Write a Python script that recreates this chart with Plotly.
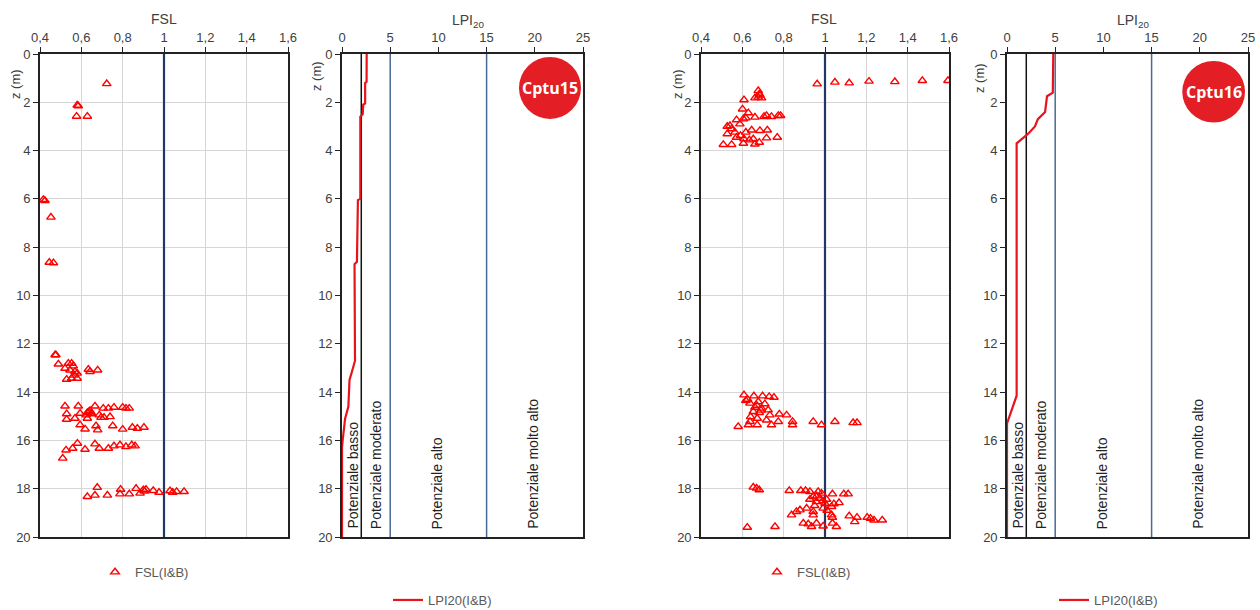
import plotly.graph_objects as go

W, H = 1260, 610

# ---------------- data ----------------
# Cptu15 FSL (x = FSL, z = depth m)
fsl15_x = [0.723, 0.58, 0.585, 0.577, 0.629, 0.424, 0.416, 0.453, 0.445, 0.465,
           0.477, 0.473, 0.489, 0.537, 0.553, 0.561, 0.521, 0.545, 0.569, 0.58, 0.529, 0.553, 0.58, 0.565,
           0.634, 0.642, 0.679,
           0.521, 0.585, 0.666, 0.706, 0.731, 0.758, 0.8, 0.816, 0.832, 0.529, 0.594, 0.629, 0.642, 0.65,
           0.623, 0.687, 0.695, 0.71, 0.739, 0.529, 0.569, 0.629, 0.594, 0.618, 0.671, 0.679, 0.752, 0.8,
           0.847, 0.871, 0.903, 0.636, 0.645,
           0.51, 0.526, 0.558, 0.581, 0.618, 0.666, 0.687, 0.731, 0.758, 0.787, 0.816, 0.844, 0.86,
           0.677, 0.629, 0.666, 0.726, 0.79, 0.787, 0.832, 0.865, 0.884, 0.9, 0.913, 0.948, 0.976,
           1.029, 1.042, 1.061, 1.097, 0.905]
fsl15_z = [1.23, 2.12, 2.15, 2.58, 2.58, 6.07, 6.03, 6.76, 8.63, 8.65,
           12.46, 12.46, 12.84, 12.81, 12.81, 12.92, 13.02, 13.09, 13.15, 13.22, 13.47, 13.43, 13.43, 13.3,
           13.06, 13.15, 13.09,
           14.58, 14.58, 14.58, 14.67, 14.67, 14.63, 14.63, 14.67, 14.67, 14.9, 14.88, 14.85, 14.77, 14.88,
           14.95, 14.95, 15.05, 15.05, 15.02, 15.13, 15.09, 15.09, 15.36, 15.53, 15.4, 15.57, 15.4, 15.54,
           15.46, 15.5, 15.46, 14.82, 14.9,
           16.74, 16.4, 16.33, 16.12, 16.37, 16.15, 16.33, 16.33, 16.23, 16.19, 16.26, 16.19, 16.23,
           17.95, 18.33, 18.27, 18.27, 18.03, 18.22, 18.22, 17.99, 18.19, 18.05, 18.03, 18.08, 18.15,
           18.09, 18.15, 18.12, 18.12, 18.1]

# Cptu16 FSL
fsl16_x = [0.962, 1.048, 1.117, 1.213, 1.338, 1.471, 1.595,
           0.677, 0.682, 0.677, 0.661, 0.693, 0.608, 0.685,
           0.601, 0.629, 0.617, 0.572, 0.605, 0.661, 0.705, 0.717, 0.741, 0.774, 0.785, 0.588, 0.527,
           0.54, 0.548, 0.527, 0.564, 0.572, 0.591, 0.617, 0.645, 0.685, 0.721, 0.608, 0.634, 0.653,
           0.605, 0.661, 0.682, 0.717, 0.769, 0.508, 0.548,
           0.608, 0.617, 0.656, 0.698, 0.73, 0.753, 0.637, 0.677, 0.709, 0.661, 0.693, 0.725, 0.653,
           0.682, 0.733, 0.779, 0.814, 0.64, 0.672, 0.717, 0.774, 0.843, 0.843, 0.637, 0.58, 0.629,
           0.672, 0.741, 0.943, 0.983, 1.048, 1.136, 1.155, 0.625, 0.67, 0.69,
           0.653, 0.669, 0.682, 0.827, 0.883, 0.906, 0.927, 0.967, 0.983, 0.943, 0.975, 1.036, 1.091,
           1.112, 0.927, 0.959, 1.0, 1.007, 1.043, 1.068, 1.032, 0.991, 0.911, 0.879, 0.862, 0.838,
           0.943, 0.943, 1.032, 1.036, 1.117, 1.155, 1.144, 1.204, 1.22, 1.237, 1.277, 0.895, 0.919,
           0.959, 0.935, 0.991, 1.036, 1.055, 0.624, 0.758, 0.96, 0.99, 0.95, 1.01]
fsl16_z = [1.24, 1.17, 1.2, 1.13, 1.15, 1.1, 1.1,
           1.52, 1.66, 1.79, 1.82, 1.82, 1.9, 1.7,
           2.28, 2.44, 2.65, 2.73, 2.69, 2.62, 2.59, 2.55, 2.59, 2.55, 2.55, 2.9, 3.0,
           2.97, 3.1, 3.31, 3.24, 3.45, 3.38, 3.24, 3.15, 3.17, 3.15, 3.52, 3.56, 3.52,
           3.7, 3.73, 3.66, 3.48, 3.45, 3.75, 3.75,
           14.12, 14.35, 14.16, 14.16, 14.19, 14.22, 14.46, 14.4, 14.49, 14.63, 14.67, 14.74, 14.81,
           14.85, 14.95, 14.91, 14.95, 15.02, 15.09, 15.16, 15.22, 15.22, 15.36, 15.22, 15.43, 15.36,
           15.36, 15.36, 15.22, 15.36, 15.22, 15.27, 15.27, 14.3, 14.55, 14.75,
           17.94, 17.98, 18.05, 18.08, 18.08, 18.08, 18.12, 18.12, 18.19, 18.33, 18.4, 18.22, 18.22,
           18.22, 18.44, 18.54, 18.61, 18.44, 18.63, 18.58, 18.74, 18.81, 18.81, 18.88, 18.95, 19.09,
           18.95, 19.09, 19.09, 19.19, 19.13, 19.19, 19.37, 19.19, 19.23, 19.3, 19.3, 19.43, 19.46,
           19.43, 19.57, 19.55, 19.43, 19.57, 19.6, 19.57, 18.3, 18.5, 18.7, 18.9]

# LPI20 profiles
lpi15_v = [2.56, 2.55, 2.4, 2.4, 2.2, 2.15, 1.9, 1.9, 1.65, 1.55, 1.3, 1.35, 1.0, 0.78, 0.66, 0.32, 0.07, 0.0, 0.0]
lpi15_z = [0.0, 1.15, 1.2, 2.05, 2.1, 2.5, 2.6, 6.0, 6.05, 8.6, 8.7, 12.7, 13.2, 13.5, 14.6, 15.1, 16.0, 16.3, 20.0]
lpi16_v = [4.8, 4.75, 4.15, 3.95, 3.2, 2.9, 2.2, 1.0, 1.0, 0.05, 0.0, 0.0]
lpi16_z = [0.0, 1.6, 1.75, 2.4, 2.7, 3.0, 3.3, 3.7, 14.15, 15.2, 15.3, 20.0]

# reference values
fsl_limit = [1, 1]
zone_bounds = [2, 5, 15]
zone_labels = ["Potenziale basso", "Potenziale moderato", "Potenziale alto", "Potenziale molto alto"]
zone_label_x = [1.15, 3.6, 9.9, 19.8]
depth_range = [0, 20]
fsl_ticks = [0.4, 0.6, 0.8, 1.0, 1.2, 1.4, 1.6]
lpi_ticks = [0, 5, 10, 15, 20, 25]
depth_ticks = [0, 2, 4, 6, 8, 10, 12, 14, 16, 18, 20]
site_names = ["Cptu15", "Cptu16"]

# ---------------- figure ----------------
def px(x):
    return x / W

def py(y):
    return 1 - y / H

RED = "#FF0000"
NAVY = "#1F3864"
STEEL = "#4A6A96"
TXT = "#404040"
FONT = "Liberation Sans, Arial, sans-serif"

fig = go.Figure()

panels = [
    dict(x="x", y="y", d=(40, 288)),
    dict(x="x2", y="y2", d=(342, 583)),
    dict(x="x3", y="y3", d=(701, 949)),
    dict(x="x4", y="y4", d=(1007, 1248)),
]

legend_names = ["legend", "legend2", "legend3", "legend4"]

# FSL scatter panels
for i, (fx, fz) in enumerate([(fsl15_x, fsl15_z), (fsl16_x, fsl16_z)]):
    p = panels[2 * i]
    fig.add_trace(go.Scatter(
        x=fsl_limit, y=depth_range, mode="lines", xaxis=p["x"], yaxis=p["y"],
        line=dict(color=NAVY, width=2.2), showlegend=False, hoverinfo="skip"))
    fig.add_trace(go.Scatter(
        x=fx, y=fz, mode="markers", name="FSL(I&B)", xaxis=p["x"], yaxis=p["y"],
        marker=dict(symbol="triangle-up-open", color=RED, size=7.5, line=dict(width=1.4, color=RED)),
        legend=legend_names[2 * i]))

# LPI panels
for i, (lv, lz) in enumerate([(lpi15_v, lpi15_z), (lpi16_v, lpi16_z)]):
    p = panels[2 * i + 1]
    for b in zone_bounds:
        fig.add_trace(go.Scatter(
            x=[b, b], y=depth_range, mode="lines", xaxis=p["x"], yaxis=p["y"],
            line=dict(color="#111111" if b == zone_bounds[0] else STEEL, width=1.5),
            showlegend=False, hoverinfo="skip"))
    fig.add_trace(go.Scatter(
        x=lv, y=lz, mode="lines", name="LPI20(I&B)", xaxis=p["x"], yaxis=p["y"],
        line=dict(color="#E8141B", width=2.2), legend=legend_names[2 * i + 1]))
    for lab, lx in zip(zone_labels, zone_label_x):
        fig.add_annotation(x=lx, y=19.75, xref=p["x"], yref=p["y"], text=lab, textangle=-90,
                           showarrow=False, xanchor="center", yanchor="bottom",
                           font=dict(size=14, color="#222222", family=FONT))

axis_common = dict(
    side="top", showline=True, linecolor="#222222", linewidth=1.6, mirror=True,
    ticks="outside", ticklen=5, tickwidth=1, tickcolor="#222222",
    tickfont=dict(size=13, color=TXT, family=FONT), zeroline=False, automargin=False,
)
layout = {}
for k, p in enumerate(panels):
    xa = "xaxis" if k == 0 else f"xaxis{k + 1}"
    ya = "yaxis" if k == 0 else f"yaxis{k + 1}"
    is_fsl = k in (0, 2)
    xd = dict(axis_common)
    xd.update(domain=[px(p["d"][0]), px(p["d"][1])], anchor=p["y"])
    if is_fsl:
        xd.update(range=[0.4, 1.6], tickvals=fsl_ticks, showgrid=True, gridcolor="#D6D6D6", gridwidth=1.2)
    else:
        xd.update(range=[0, 25], tickvals=lpi_ticks, showgrid=False)
    yd = dict(axis_common)
    yd.pop("side")
    yd.update(domain=[py(537), py(54)], anchor=p["x"], range=[20, 0], tickvals=depth_ticks,
              showgrid=is_fsl, gridcolor="#D6D6D6", gridwidth=1.2)
    layout[xa] = xd
    layout[ya] = yd

fig.update_layout(**layout)

# axis titles
titles = [("FSL", 164, 19), ("LPI<sub>20</sub>", 468, 21), ("FSL", 824, 19), ("LPI<sub>20</sub>", 1133, 21)]
for t, x, y in titles:
    fig.add_annotation(x=px(x), y=py(y), xref="paper", yref="paper", text=t, showarrow=False,
                       xanchor="center", yanchor="middle",
                       font=dict(size=14, color=TXT, family=FONT))
for x, y in [(15, 84), (316, 76), (677, 84), (980, 78)]:
    fig.add_annotation(x=px(x), y=py(y), xref="paper", yref="paper", text="z (m)", showarrow=False,
                       xanchor="center", yanchor="middle",
                       textangle=-90, font=dict(size=13, color=TXT, family=FONT))

# site badges
badges = [("x2", "y2", 18.36, 24.79, 0.12, 2.69), ("x4", "y4", 18.18, 24.69, 0.29, 2.84)]
for name, (xr, yr, x0, x1, y0, y1) in zip(site_names, badges):
    fig.add_shape(type="circle", xref=xr, yref=yr, x0=x0, x1=x1, y0=y0, y1=y1,
                  fillcolor="#E31E24", line=dict(width=0), layer="above")
    fig.add_annotation(x=(x0 + x1) / 2, y=(y0 + y1) / 2, xref=xr, yref=yr, text=f"<b>{name}</b>",
                       showarrow=False, xanchor="center", yanchor="middle",
                       font=dict(size=16, color="white", family="Open Sans, sans-serif"))

leg_style = dict(font=dict(size=13, color="#595959", family=FONT), bgcolor="rgba(0,0,0,0)",
                 xanchor="left", yanchor="middle", itemwidth=30)
fig.update_layout(
    width=W, height=H, margin=dict(l=0, r=0, t=0, b=0, autoexpand=False),
    paper_bgcolor="white", plot_bgcolor="white", separators=",.",
    legend=dict(x=px(95), y=py(572), **leg_style),
    legend2=dict(x=px(388), y=py(600), **leg_style),
    legend3=dict(x=px(757), y=py(572), **leg_style),
    legend4=dict(x=px(1054), y=py(600), **leg_style),
)

fig.write_html("out.html", config={"displayModeBar": False},
               post_script="document.body.style.margin='0px';document.body.style.overflow='hidden';")
